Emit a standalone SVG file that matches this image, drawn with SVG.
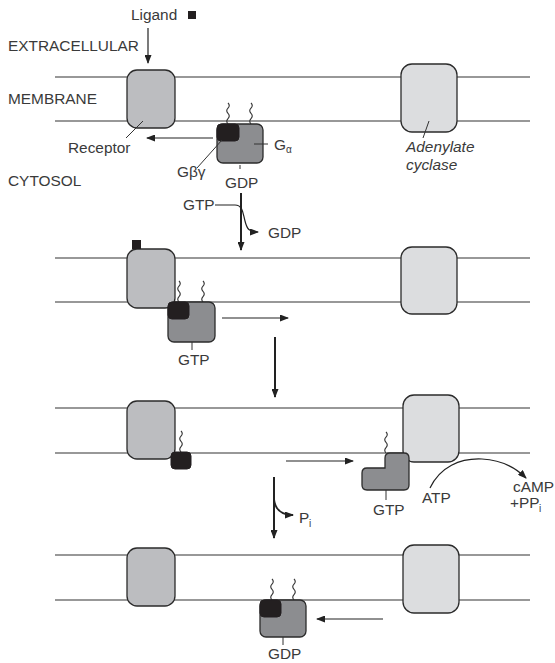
<svg xmlns="http://www.w3.org/2000/svg" xmlns:xlink="http://www.w3.org/1999/xlink" width="555" height="663" viewBox="0 0 555 663">
<style>
.t{font-family:"Liberation Sans",Arial,Helvetica,sans-serif;font-size:15.4px;fill:#3a3a3a}
.it{font-style:italic}
.sub{font-size:10px}
.mem{stroke:#333;stroke-width:1.2;fill:none}
.rec{fill:#bcbdc0;stroke:#2b2b2b;stroke-width:1.3}
.cyc{fill:#dcdddf;stroke:#2b2b2b;stroke-width:1.3}
.ga{fill:#8c8d90;stroke:#2b2b2b;stroke-width:1.3}
.gbg{fill:#231f20;stroke:#231f20;stroke-width:1}
.lig{fill:#231f20}
.ln{stroke:#333;stroke-width:1;fill:none}
.ar{stroke:#222;stroke-width:1.2;fill:none;marker-end:url(#ah)}
.arT{stroke:#222;stroke-width:2;fill:none;marker-end:url(#ah)}
.sq{stroke:#333;stroke-width:1.1;fill:none}
</style>
<defs>
<marker id="ah" markerUnits="userSpaceOnUse" markerWidth="9" markerHeight="7" refX="8" refY="3.5" orient="auto">
<path d="M0,0 L9,3.5 L0,7 z" fill="#222"/>
</marker>
<path id="sq" d="M0,0 q2.5,2.6 0,5.2 q-2.5,2.6 0,5.2 q2.5,2.6 0,5.2 q-2.5,2.6 0,5.4" class="sq"/>
</defs>
<rect width="555" height="663" fill="#fff"/>

<g id="labels">
<text class="t" x="8" y="51">EXTRACELLULAR</text>
<text class="t" x="8" y="104">MEMBRANE</text>
<text class="t" x="8" y="186">CYTOSOL</text>
</g>

<g id="membranes">
<line class="mem" x1="55" y1="77" x2="530" y2="77"/>
<line class="mem" x1="55" y1="121" x2="530" y2="121"/>
<line class="mem" x1="55" y1="258" x2="530" y2="258"/>
<line class="mem" x1="55" y1="302" x2="530" y2="302"/>
<line class="mem" x1="55" y1="408" x2="530" y2="408"/>
<line class="mem" x1="55" y1="453" x2="530" y2="453"/>
<line class="mem" x1="55" y1="555" x2="530" y2="555"/>
<line class="mem" x1="55" y1="600" x2="530" y2="600"/>
</g>

<g id="ligand">
<text class="t" x="131" y="20">Ligand</text>
<rect class="lig" x="188" y="11" width="8" height="8"/>
</g>

<g id="receptor1">
<rect class="rec" x="127" y="70" width="48" height="58" rx="10"/>
<text class="t" x="68" y="153">Receptor</text>
</g>
<g id="receptor2">
<rect class="rec" x="127" y="249" width="48" height="59" rx="10"/>
<rect class="lig" x="132" y="240" width="9" height="9"/>
</g>
<g id="receptor3">
<rect class="rec" x="127" y="401" width="48" height="58" rx="10"/>
</g>
<g id="receptor4">
<rect class="rec" x="127" y="548" width="48" height="58" rx="10"/>
</g>

<g id="cyclase1">
<rect class="cyc" x="401" y="64" width="56" height="68" rx="11"/>
<text class="t it" x="406" y="152">Adenylate</text>
<text class="t it" x="406" y="170">cyclase</text>
</g>
<g id="cyclase2">
<rect class="cyc" x="401" y="247" width="56" height="67" rx="11"/>
</g>
<g id="cyclase3">
<rect class="cyc" x="403" y="395" width="56" height="67" rx="11"/>
</g>
<g id="cyclase4">
<rect class="cyc" x="403" y="545" width="56" height="68" rx="11"/>
</g>

<g id="gprotein1">
<use xlink:href="#sq" href="#sq" x="228" y="103"/>
<use xlink:href="#sq" href="#sq" x="251" y="103"/>
<rect class="ga" x="217" y="124" width="46" height="39" rx="6"/>
<rect class="gbg" x="217" y="124" width="22" height="17" rx="4"/>
<line class="ln" x1="254" y1="144" x2="268" y2="144"/>
<text class="t" x="274" y="150">G</text><text class="t sub" x="286" y="153">α</text>
<line class="ln" x1="197" y1="168" x2="222" y2="140"/>
<text class="t" x="177" y="177">Gβγ</text>
<line class="ln" x1="240" y1="165" x2="240" y2="169"/>
<text class="t" x="225" y="188">GDP</text>
</g>

<g id="gprotein2">
<use xlink:href="#sq" href="#sq" x="179" y="281"/>
<use xlink:href="#sq" href="#sq" x="203" y="281"/>
<rect class="ga" x="168" y="302" width="47" height="40" rx="6"/>
<rect class="gbg" x="168" y="302" width="21" height="17" rx="4"/>
<line class="ln" x1="192" y1="342" x2="192" y2="350"/>
<text class="t" x="178" y="365">GTP</text>
</g>

<g id="gbg3">
<use xlink:href="#sq" href="#sq" x="181" y="431"/>
<rect class="gbg" x="171" y="452" width="20" height="17" rx="4"/>
</g>

<g id="galpha3">
<use xlink:href="#sq" href="#sq" x="386" y="432"/>
<path class="ga" d="M390,453 L404,453 Q409,453 409,458 L409,485 Q409,490 404,490 L367,490 Q362,490 362,485 L362,473 Q362,468 367,468 L385,468 L385,458 Q385,453 390,453 Z"/>
<line class="ln" x1="386" y1="490" x2="386" y2="500"/>
<text class="t" x="373" y="515">GTP</text>
</g>

<g id="gprotein4">
<use xlink:href="#sq" href="#sq" x="272" y="579"/>
<use xlink:href="#sq" href="#sq" x="294" y="579"/>
<rect class="ga" x="260" y="600" width="46" height="37" rx="6"/>
<rect class="gbg" x="260" y="600" width="21" height="17" rx="4"/>
<line class="ln" x1="283" y1="637" x2="283" y2="645"/>
<text class="t" x="268" y="659">GDP</text>
</g>

<g id="connectors">
<line class="ar" x1="148" y1="28" x2="148" y2="63"/>
<line class="ln" x1="126" y1="138" x2="143" y2="121"/>
<line class="ln" x1="423" y1="138" x2="429" y2="121"/>
<line class="ar" x1="213" y1="138" x2="147" y2="138"/>
<line class="arT" x1="241" y1="193" x2="241" y2="250"/>
<path class="ar" d="M215,205 L235,205 C243,205 243,214 245,221 C247,229 249,232 258,232"/>
<text class="t" x="183" y="210">GTP</text>
<text class="t" x="268" y="238">GDP</text>
<line class="ar" x1="222" y1="318" x2="288" y2="318"/>
<line class="arT" x1="275" y1="337" x2="275" y2="397"/>
<line class="ar" x1="286" y1="461" x2="353" y2="461"/>
<line class="arT" x1="274" y1="477" x2="274" y2="538"/>
<path class="ar" d="M274,499 C275,509 281,515 293,515" style="stroke-width:1.8"/>
<text class="t" x="299" y="523">P</text><text class="t sub" x="309" y="527">i</text>
<path class="ar" d="M430,488 C440,467 460,458 482,459 C502,460 517,469 526,478"/>
<text class="t" x="422" y="503">ATP</text>
<text class="t" x="513" y="492">cAMP</text>
<text class="t" x="510" y="508">+PP</text><text class="t sub" x="539" y="512">i</text>
<line class="ar" x1="383" y1="619" x2="317" y2="619"/>
</g>
</svg>
